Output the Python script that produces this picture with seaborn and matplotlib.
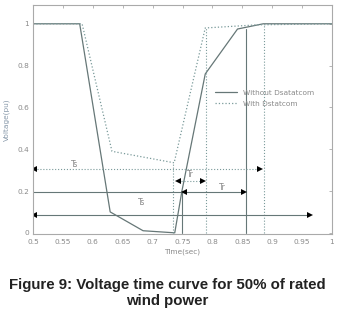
import numpy as np
import pandas as pd
import matplotlib
matplotlib.use("Agg")
import matplotlib.pyplot as plt
import seaborn as sns

# curvas
tempo_sem = [0.5, 0.578, 0.629, 0.684, 0.737, 0.749, 0.788, 0.842, 0.885, 1.0]
tensao_sem = [1.0, 1.0, 0.10, 0.01, 0.0, 0.2, 0.76, 0.975, 1.0, 1.0]
tempo_com = [0.5, 0.582, 0.632, 0.736, 0.788, 0.875, 1.0]
tensao_com = [1.0, 1.0, 0.39, 0.335, 0.98, 0.995, 1.0]

# linhas verticais de referencia (x, altura)
vert_solidas = [(0.749, 0.2), (0.856, 0.975)]
vert_pontilhadas = [(0.734, 0.335), (0.789, 0.98), (0.886, 1.0)]

# setas: (x0, x1, y, rotulo, x_rotulo, y_rotulo, estilo)
setas = [
    (0.502, 0.880, 0.306, "Ts", 0.570, 0.325, ":"),
    (0.742, 0.784, 0.249, "Tr", 0.763, 0.280, ":"),
    (0.752, 0.852, 0.195, "Tr", 0.816, 0.217, "-"),
    (0.502, 0.963, 0.086, "Ts", 0.682, 0.145, "-"),
]
linha_base = (0.5, 0.749, 0.195)

xticks = [0.5, 0.55, 0.6, 0.65, 0.7, 0.75, 0.8, 0.85, 0.9, 0.95, 1]
xtick_labels = ["0.5", "0.55", "0.6", "0.65", "0.7", "0.75", "0.8", "0.85", "0.9", "0.95", "1"]
yticks = [0, 0.2, 0.4, 0.6, 0.8, 1]
ytick_labels = ["0", "0.2", "0.4", "0.6", "0.8", "1"]

cor = "#667777"
cor_pont = "#7a9a9a"
cinza_txt = "#8a8a8a"

sns.set_style("white")
plt.rcParams['font.family'] = ['DejaVu Sans']

fig = plt.figure(figsize=(3.48, 3.11), dpi=100)
ax = fig.add_axes([0.095, 0.248, 0.859, 0.736])

df_sem = pd.DataFrame({"t": tempo_sem, "v": tensao_sem})
df_com = pd.DataFrame({"t": tempo_com, "v": tensao_com})
sns.lineplot(data=df_sem, x="t", y="v", ax=ax, sort=False, color=cor, lw=0.9,
             label="Without Dsatatcom")
sns.lineplot(data=df_com, x="t", y="v", ax=ax, sort=False, color=cor_pont, lw=0.9,
             linestyle=":", label="With Dstatcom")

for x, h in vert_solidas:
    ax.plot([x, x], [0, h], color=cor, lw=0.8)
for x, h in vert_pontilhadas:
    ax.plot([x, x], [0, h], color=cor_pont, lw=0.8, linestyle=":")

ax.plot([linha_base[0], linha_base[1]], [linha_base[2], linha_base[2]], color=cor, lw=0.8)

for x0, x1, y, rot, xr, yr, ls in setas:
    ax.plot([x0, x1], [y, y], color=cor if ls == "-" else cor_pont, lw=0.8, linestyle=ls)
    ax.plot([x0], [y], marker="<", color="black", ms=3.8, mew=0)
    ax.plot([x1], [y], marker=">", color="black", ms=3.8, mew=0)
    ax.text(xr, yr, rot, fontsize=5.5, color=cinza_txt, ha="center", va="center")

ax.set_xlim(0.5, 1.0)
ax.set_ylim(-0.005, 1.09)
ax.set_xticks(xticks)
ax.set_xticklabels(xtick_labels)
ax.set_yticks(yticks)
ax.set_yticklabels(ytick_labels)
ax.tick_params(direction="in", length=2, width=0.5, colors="#999999", labelsize=5.3,
               labelcolor=cinza_txt, top=True, right=True)
ax.tick_params(axis="x", pad=4)
ax.tick_params(axis="y", pad=3)
for s in ax.spines.values():
    s.set_color("#aaaaaa")
    s.set_linewidth(0.8)

ax.set_xlabel("Time(sec)", fontsize=5.3, color=cinza_txt, labelpad=2)
ax.set_ylabel("Voltage(pu)", fontsize=5.3, color="#8899aa", labelpad=5)

leg = ax.legend(loc="upper left", bbox_to_anchor=(0.585, 0.66), frameon=False,
                fontsize=5.3, handlelength=3.0, handletextpad=0.8, labelspacing=0.7)
for t in leg.get_texts():
    t.set_color(cinza_txt)

fig.text(0.481, 0.058, "Figure 9: Voltage time curve for 50% of rated\nwind power",
         ha="center", va="center", fontsize=10.8, fontweight="bold",
         family="Liberation Sans", color="#222222", linespacing=1.2)

fig.savefig("out.png", dpi=100)
